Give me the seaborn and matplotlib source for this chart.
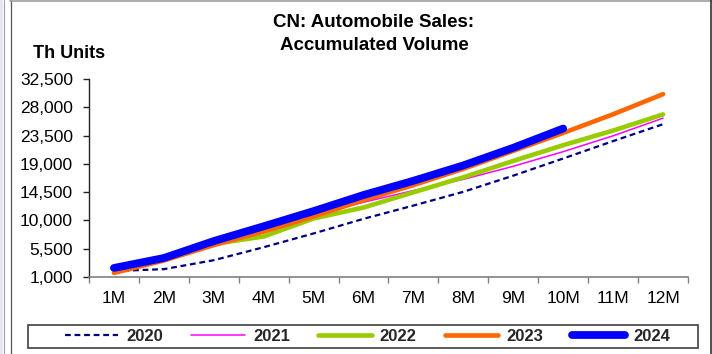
import matplotlib
matplotlib.use("Agg")
import matplotlib.pyplot as plt
from matplotlib.lines import Line2D
from matplotlib.patches import Rectangle
import numpy as np
import pandas as pd
import seaborn as sns

# Accumulated monthly automobile sales, thousand units
months = ["1M", "2M", "3M", "4M", "5M", "6M", "7M", "8M", "9M", "10M", "11M", "12M"]
sales_2020 = [1941, 2251, 3672, 5740, 7930, 10257, 12368, 14555, 17124, 19855, 22621, 25311]
sales_2021 = [2503, 3958, 6484, 8736, 10864, 12891, 14753, 16541, 18612, 20943, 23464, 26275]
sales_2022 = [2531, 4034, 6263, 7445, 10308, 12057, 14477, 16860, 19470, 21970, 24296, 26864]
sales_2023 = [1649, 3625, 6076, 8234, 10616, 13239, 15622, 18209, 21067, 23919, 26890, 30094]
sales_2024 = [2439, 4022, 6720, 9072, 11486, 14047, 16310, 18760, 21560, 24623]
y_ticks = [1000, 5500, 10000, 14500, 19000, 23500, 28000, 32500]

series = {
    "2020": sales_2020,
    "2021": sales_2021,
    "2022": sales_2022,
    "2023": sales_2023,
    "2024": sales_2024,
}
styles = {
    "2020": dict(color="#000080", lw=1.6, dashes=(2.6, 1.7)),
    "2021": dict(color="#FF00FF", lw=1.1, dashes=None),
    "2022": dict(color="#99CC00", lw=3.3, dashes=None),
    "2023": dict(color="#FF6600", lw=3.3, dashes=None),
    "2024": dict(color="#0000FF", lw=5.6, dashes=None),
}

rows = []
for year, vals in series.items():
    for i, v in enumerate(vals):
        rows.append({"year": year, "month_idx": i, "sales": v})
df = pd.DataFrame(rows)

sns.set_theme(style="white")
plt.rcParams["font.family"] = ["Liberation Sans", "DejaVu Sans"]

W, H = 712, 354
fig = plt.figure(figsize=(W / 100, H / 100), dpi=100)
fig.patch.set_facecolor("white")
ax = fig.add_axes([89 / W, (H - 277) / H, (688 - 89) / W, (277 - 79) / H])
ax.set_facecolor("white")

handles = []
for year in series:
    st = styles[year]
    sub = df[df["year"] == year]
    sns.lineplot(data=sub, x="month_idx", y="sales", ax=ax, color=st["color"],
                 linewidth=st["lw"], legend=False)
    line = ax.lines[-1]
    line.set_solid_capstyle("round")
    if st["dashes"]:
        line.set_dashes(st["dashes"])
        line.set_dash_capstyle("butt")
    h = Line2D([0], [0], color=st["color"], lw=st["lw"], solid_capstyle="round")
    if st["dashes"]:
        h.set_dashes(st["dashes"])
    handles.append(h)

ax.set_xlim(-0.5, 11.5)
ax.set_ylim(1000, 32500)
ax.set_xticks(range(12))
ax.set_xticklabels(months)
ax.set_xticks(np.arange(-0.5, 12, 1), minor=True)
ax.set_yticks(y_ticks)
ax.set_yticklabels([f"{v:,}" for v in y_ticks])
ax.set_xlabel("")
ax.set_ylabel("")

for side in ["top", "right"]:
    ax.spines[side].set_visible(False)
ax.spines["left"].set_color("#222222")
ax.spines["left"].set_linewidth(1.0)
ax.spines["bottom"].set_color("#808080")
ax.spines["bottom"].set_linewidth(1.2)

ax.tick_params(axis="x", which="major", length=0, pad=10, labelsize=12.5,
               labelcolor="black")
ax.tick_params(axis="x", which="minor", length=4.5, width=1.0, color="#808080",
               direction="out", bottom=True)
ax.tick_params(axis="y", length=4.5, width=1.0, color="#222222", direction="out",
               left=True, pad=7, labelsize=12.5, labelcolor="black")

# Title and unit label
fig.text(374 / W, (H - 50) / H, "CN: Automobile Sales:\nAccumulated Volume",
         ha="center", va="baseline", fontsize=13.5, fontweight="bold",
         linespacing=1.45, color="black")
fig.text(33 / W, (H - 58) / H, "Th Units", ha="left", va="baseline",
         fontsize=13, fontweight="bold", color="black")

# Legend row with its own box
leg = fig.legend(handles, list(series.keys()), loc="center",
                 bbox_to_anchor=(367.5 / W, (H - 336.5) / H), ncol=5,
                 frameon=False, handlelength=3.2, handletextpad=0.5,
                 columnspacing=1.7, prop={"weight": "bold", "size": 12})
fig.add_artist(Rectangle((28 / W, (H - 348) / H), (698 - 28) / W, 23 / H,
                         transform=fig.transFigure, fill=False,
                         edgecolor="#404040", linewidth=1.2))

# Frame around the figure
fig.add_artist(Rectangle((0, 0), 3 / W, 1, transform=fig.transFigure,
                         facecolor="#e6e6ef", edgecolor="none"))
fig.add_artist(Line2D([3.5 / W, 3.5 / W], [0, 1], transform=fig.transFigure,
                      color="#a0a0a0", lw=0.8))
fig.add_artist(Line2D([10.5 / W, 10.5 / W], [0, 1], transform=fig.transFigure,
                      color="#555555", lw=0.9))
fig.add_artist(Line2D([10 / W, 1], [1 - 0.5 / H, 1 - 0.5 / H],
                      transform=fig.transFigure, color="#a0a0a0", lw=1.2))
fig.add_artist(Line2D([710.5 / W, 710.5 / W], [0, 1], transform=fig.transFigure,
                      color="#333333", lw=1.2))

fig.savefig("out.png", dpi=100, facecolor="white")
